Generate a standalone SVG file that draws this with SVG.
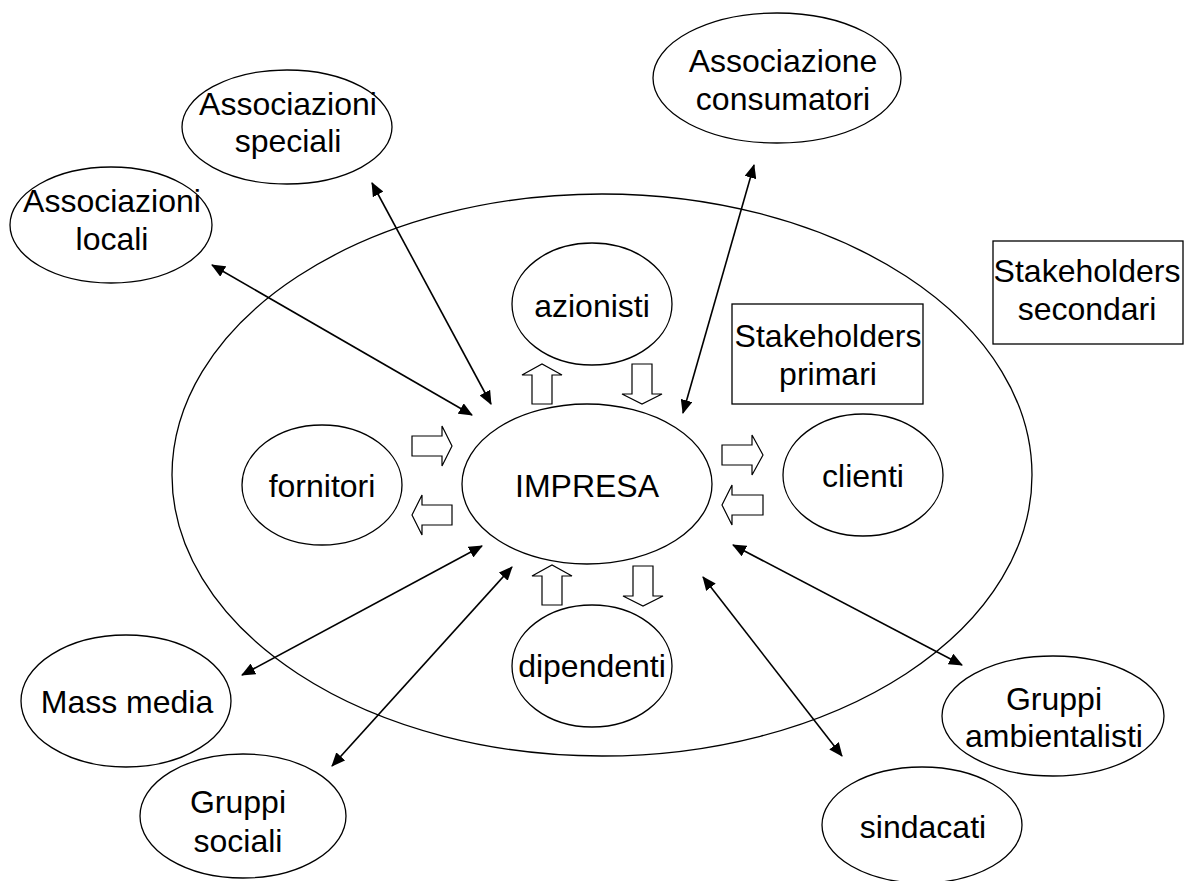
<svg xmlns="http://www.w3.org/2000/svg" width="1185" height="881" viewBox="0 0 1185 881">
<style>
.e{fill:#fff;stroke:#000;stroke-width:1.3}
.b{fill:#fff;stroke:#000;stroke-width:1.3}
.t{font-family:"Liberation Sans",Arial,sans-serif;font-size:32px;fill:#000;text-anchor:middle}
.c{stroke:#000;stroke-width:1.6;fill:none;marker-start:url(#ah);marker-end:url(#ah)}
.ba{fill:#fff;stroke:#000;stroke-width:1.2}
</style>
<defs>
<marker id="ah" markerUnits="userSpaceOnUse" markerWidth="14" markerHeight="12" refX="13" refY="6" orient="auto-start-reverse" viewBox="0 0 14 12">
<path d="M0,0 L14,6 L0,12 Z" fill="#000"/>
</marker>
</defs>
<rect width="1185" height="881" fill="#fff"/>
<g id="secondary-ring"><ellipse class="e" cx="602" cy="475" rx="430" ry="281"/></g>
<g id="connectors">
<line class="c" x1="212" y1="265" x2="472" y2="415"/>
<line class="c" x1="372" y1="183" x2="491" y2="404"/>
<line class="c" x1="754" y1="165" x2="683" y2="413"/>
<line class="c" x1="482" y1="546" x2="242" y2="675"/>
<line class="c" x1="512" y1="567" x2="332" y2="766"/>
<line class="c" x1="703" y1="577" x2="842" y2="756"/>
<line class="c" x1="733" y1="545" x2="962" y2="665"/>
<polygon class="ba" points="532,404 552,404 552,375 562,375 542,364 522,375 532,375"/>
<polygon class="ba" points="632,364 652,364 652,394 662,394 642,404 622,394 632,394"/>
<polygon class="ba" points="412,436 442,436 442,426 452,446 442,466 442,456 412,456"/>
<polygon class="ba" points="452,505 422,505 422,495 412,515 422,535 422,525 452,525"/>
<polygon class="ba" points="722,445 752,445 752,435 763,455 752,475 752,465 722,465"/>
<polygon class="ba" points="763,495 732,495 732,485 722,505 732,525 732,515 763,515"/>
<polygon class="ba" points="542,605 562,605 562,576 572,576 552,565 532,576 542,576"/>
<polygon class="ba" points="633,566 653,566 653,596 663,596 643,606 623,596 633,596"/>
</g>
<g id="impresa"><ellipse class="e" cx="587" cy="484" rx="125" ry="80"/><text class="t" x="587" y="497">IMPRESA</text></g>
<g id="azionisti"><ellipse class="e" cx="592" cy="304" rx="80" ry="61"/><text class="t" x="592" y="317">azionisti</text></g>
<g id="fornitori"><ellipse class="e" cx="322" cy="485" rx="80" ry="60"/><text class="t" x="322" y="497">fornitori</text></g>
<g id="clienti"><ellipse class="e" cx="863" cy="475" rx="80" ry="61"/><text class="t" x="863" y="487">clienti</text></g>
<g id="dipendenti"><ellipse class="e" cx="592" cy="666" rx="80" ry="61"/><text class="t" x="592" y="677">dipendenti</text></g>
<g id="stakeholders-primari"><rect class="b" x="732" y="304" width="191" height="100"/><text class="t" x="828" y="347">Stakeholders</text><text class="t" x="828" y="385">primari</text></g>
<g id="stakeholders-secondari"><rect class="b" x="993" y="241" width="190" height="103"/><text class="t" x="1087" y="282">Stakeholders</text><text class="t" x="1087" y="320">secondari</text></g>
<g id="associazioni-locali"><ellipse class="e" cx="111" cy="225" rx="101" ry="58"/><text class="t" x="112" y="212">Associazioni</text><text class="t" x="112" y="250">locali</text></g>
<g id="associazioni-speciali"><ellipse class="e" cx="287" cy="127" rx="105" ry="57"/><text class="t" x="288" y="115">Associazioni</text><text class="t" x="288" y="152">speciali</text></g>
<g id="associazione-consumatori"><ellipse class="e" cx="777" cy="78" rx="124" ry="65"/><text class="t" x="783" y="72">Associazione</text><text class="t" x="783" y="110">consumatori</text></g>
<g id="mass-media"><ellipse class="e" cx="126" cy="701" rx="105" ry="66"/><text class="t" x="127" y="713">Mass media</text></g>
<g id="gruppi-sociali"><ellipse class="e" cx="243" cy="816" rx="103" ry="62"/><text class="t" x="238" y="813">Gruppi</text><text class="t" x="238" y="852">sociali</text></g>
<g id="gruppi-ambientalisti"><ellipse class="e" cx="1053" cy="716" rx="111" ry="60"/><text class="t" x="1054" y="710">Gruppi</text><text class="t" x="1054" y="747">ambientalisti</text></g>
<g id="sindacati"><ellipse class="e" cx="922" cy="825" rx="100" ry="58"/><text class="t" x="923" y="838">sindacati</text></g>
</svg>
